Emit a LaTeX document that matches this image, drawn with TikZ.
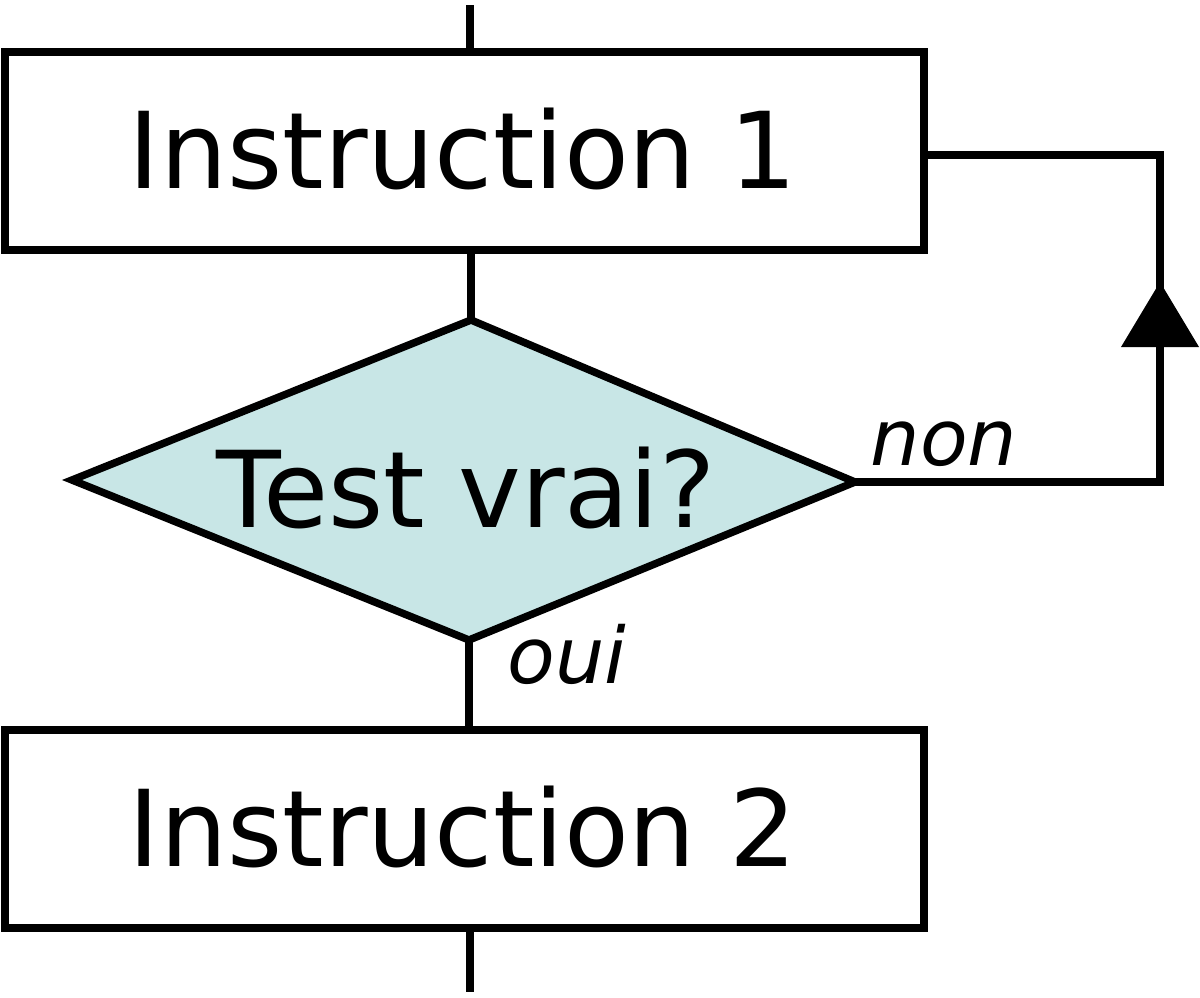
\documentclass[tikz,border=0pt]{standalone}
\usepackage{fontspec}
\setmainfont{DejaVu Sans}
\definecolor{diafill}{RGB}{200,230,230}
\begin{document}
\begin{tikzpicture}[x=1pt,y=-1pt,line width=7.5pt,
  box/.style={draw,rectangle,minimum width=919pt,minimum height=198pt,inner sep=0pt},
  big/.style={font=\fontsize{106}{116}\selectfont,inner sep=0pt,anchor=base},
  small/.style={font=\fontsize{78}{86}\selectfont\itshape,inner sep=0pt,anchor=base west}]
\useasboundingbox (0,0) rectangle (1200,997);
\coordinate (in) at (470,5);
\coordinate (out) at (470,992);
\node[box] (b1) at (464.5,151) {};
\node[big] (t1) at (463,188) {Instruction 1};
\node[box] (b2) at (464.5,829) {};
\node[big] (t2) at (463,866) {Instruction 2};
\coordinate (dt) at (471,320);
\coordinate (dl) at (72,480);
\coordinate (dr) at (855,482);
\coordinate (db) at (469,640);
\draw[fill=diafill] (dt) -- (dr) -- (db) -- (dl) -- cycle;
\node[big] (tv) at (466,527) {Test vrai?};
\node[small] (non) at (867,465) {non};
\node[small] (oui) at (504,683) {oui};
\coordinate (c1) at (1160,482);
\coordinate (c2) at (1160,155);
\draw (in) -- (in |- b1.north);
\draw (b1.south -| dt) -- (dt);
\draw (db) -- (db |- b2.north);
\draw (out |- b2.south) -- (out);
\draw (dr) -- (c1) -- (c2) -- (b1.east |- c2);
\fill ([yshift=200pt]c1) -- ([xshift=-39pt,yshift=135pt]c1) -- ([xshift=39pt,yshift=135pt]c1) -- cycle;
\end{tikzpicture}
\end{document}
